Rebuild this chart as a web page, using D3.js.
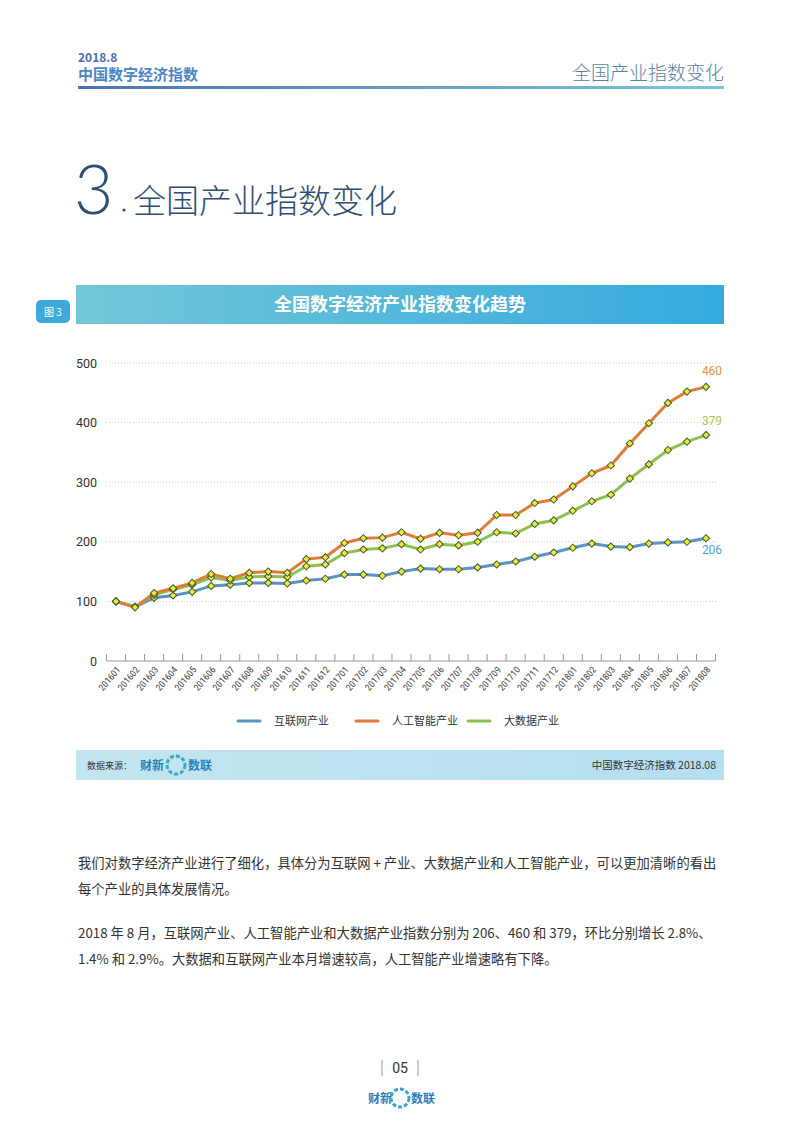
<!DOCTYPE html>
<html><head><meta charset="utf-8">
<script src="https://cdn.jsdelivr.net/npm/d3@7/dist/d3.min.js"></script>
<style>body{margin:0;background:#fff;font-family:"Noto Sans CJK SC","Noto Sans",sans-serif}</style>
</head><body>
<svg id="c" width="800" height="1132"></svg>
<script>
const months=["201601","201602","201603","201604","201605","201606","201607","201608","201609","201610","201611","201612","201701","201702","201703","201704","201705","201706","201707","201708","201709","201710","201711","201712","201801","201802","201803","201804","201805","201806","201807","201808"];
const internet=[100,91,106,110,116,126,128,131,131,130,135,138,145,145,143,150,155,154,154,157,162,167,175,182,190,197,192,191,197,199,200,206];
const ai=[100,90,114,122,131,146,138,148,150,148,171,174,198,206,207,216,205,215,211,215,245,245,265,271,293,315,328,365,399,433,452,460];
const bigdata=[100,91,111,120,128,140,135,141,142,141,159,162,181,187,189,196,187,196,194,200,216,214,230,236,252,268,279,306,330,354,368,379];
const seriesNames=["互联网产业","人工智能产业","大数据产业"];
const yTicks=[0,100,200,300,400,500];
const colors=["#5b93c7","#e07b39","#8cc152"];
const labelColors=["#3fa9dc","#e8913f","#a6c85a"];

const svg=d3.select("#c");
const defs=svg.append("defs");
const g1=defs.append("linearGradient").attr("id","hl");
g1.append("stop").attr("offset","0").attr("stop-color","#4a72b8");
g1.append("stop").attr("offset","1").attr("stop-color","#7cc7dc");
const g2=defs.append("linearGradient").attr("id","ban");
g2.append("stop").attr("offset","0").attr("stop-color","#72c7d6");
g2.append("stop").attr("offset","1").attr("stop-color","#35a9e0");
const g3=defs.append("linearGradient").attr("id","src");
g3.append("stop").attr("offset","0").attr("stop-color","#c2e6ef");
g3.append("stop").attr("offset","1").attr("stop-color","#b5dff0");

svg.append("text").attr("x",78).attr("y",62).text("2018.8").attr("font-size",12).attr("font-weight","bold").attr("fill","#4a6fae");
svg.append("text").attr("x",78).attr("y",80).text("中国数字经济指数").attr("font-size",15).attr("font-weight","bold").attr("fill","#4a86c8");
svg.append("text").attr("x",724).attr("y",80).attr("text-anchor","end").text("全国产业指数变化").attr("font-size",19).attr("font-weight","300").attr("fill","#5a7fa8");
svg.append("rect").attr("x",78).attr("y",86).attr("width",646).attr("height",3).attr("fill","url(#hl)");
svg.append("text").attr("x",74).attr("y",214).text("3").attr("font-size",68).attr("font-weight","300").attr("fill","#2d4e73").attr("font-family","Lato");
svg.append("circle").attr("cx",124).attr("cy",210).attr("r",1.6).attr("fill","#2d4e73");
svg.append("text").attr("x",133).attr("y",213).text("全国产业指数变化").attr("font-size",33).attr("font-weight","300").attr("fill","#2d4e73");
svg.append("rect").attr("x",76).attr("y",285).attr("width",648).attr("height",39).attr("fill","url(#ban)");
svg.append("text").attr("x",400).attr("y",311).attr("text-anchor","middle").text("全国数字经济产业指数变化趋势").attr("font-size",18).attr("font-weight","bold").attr("fill","#fff");
svg.append("rect").attr("x",36).attr("y",300).attr("width",34).attr("height",23).attr("rx",5).attr("fill","#3fa9dc");
svg.append("text").attr("x",53).attr("y",316).attr("text-anchor","middle").text("图 3").attr("font-size",10).attr("fill","#fff");

const x=d3.scalePoint().domain(months).range([116,706]);
const y=d3.scaleLinear().domain([0,500]).range([661,363]);
yTicks.forEach(t=>{ if(t>0) svg.append("line").attr("x1",106).attr("x2",716).attr("y1",y(t)).attr("y2",y(t)).attr("stroke","#c8c8c8").attr("stroke-dasharray","1,2");});
const ya=svg.append("g").attr("transform","translate(100,0)").call(d3.axisLeft(y).tickValues(yTicks).tickSize(0));
ya.select(".domain").remove();
ya.selectAll("text").attr("font-size",12.5).attr("fill","#333").attr("font-family","Roboto").attr("x",-3);
const step=x.step();
const xa=svg.append("g").attr("transform","translate(0,661)").call(d3.axisBottom(x).tickSize(0).tickFormat(""));
xa.select(".domain").attr("d",`M${116-step/2},0H${706+step/2}`).attr("stroke","#999");
months.concat(["end"]).forEach((m,i)=>{const px=116-step/2+i*step;svg.append("line").attr("x1",px).attr("x2",px).attr("y1",654).attr("y2",661).attr("stroke","#999");});
months.forEach(m=>{svg.append("text").attr("transform",`translate(${x(m)+5},${670}) rotate(-50)`).attr("text-anchor","end").attr("font-size",9.5).attr("fill","#444").attr("font-family","Roboto Condensed, Roboto").text(m);});

const data=[internet,ai,bigdata];
const line=d3.line().x((d,i)=>x(months[i])).y(d=>y(d));
[0,2,1].forEach(k=>{
 svg.append("path").datum(data[k]).attr("d",line).attr("fill","none").attr("stroke",colors[k]).attr("stroke-width",3);
});
[0,2,1].forEach(k=>{
 svg.append("g").selectAll("path").data(data[k]).join("path")
  .attr("d",d3.symbol(d3.symbolSquare,26))
  .attr("transform",(d,i)=>`translate(${x(months[i])},${y(d)}) rotate(45)`)
  .attr("fill","#f0ec2a").attr("stroke","#3b5a3b").attr("stroke-width",1);
});
const last=months[months.length-1];
svg.append("text").attr("x",x(last)+6).attr("y",y(460)-12).attr("text-anchor","middle").text("460").attr("font-size",12).attr("fill",labelColors[1]).attr("font-family","Roboto");
svg.append("text").attr("x",x(last)+6).attr("y",y(379)-10).attr("text-anchor","middle").text("379").attr("font-size",12).attr("fill",labelColors[2]).attr("font-family","Roboto");
svg.append("text").attr("x",x(last)+6).attr("y",y(206)+16).attr("text-anchor","middle").text("206").attr("font-size",12).attr("fill",labelColors[0]).attr("font-family","Roboto");

const lx=[238,356,468];
seriesNames.forEach((n,k)=>{
 svg.append("line").attr("x1",lx[k]).attr("x2",lx[k]+22).attr("y1",721).attr("y2",721).attr("stroke",colors[k]).attr("stroke-width",3).attr("stroke-linecap","round");
 svg.append("text").attr("x",lx[k]+36).attr("y",725).text(n).attr("font-size",11).attr("fill","#333");
});

svg.append("rect").attr("x",76).attr("y",750).attr("width",648).attr("height",30).attr("fill","url(#src)");
svg.append("text").attr("x",87).attr("y",769).text("数据来源：").attr("font-size",9).attr("fill","#333");
svg.append("text").attr("x",140).attr("y",770).text("财新").attr("font-size",12).attr("font-weight","bold").attr("fill","#2a7fc0");
svg.append("circle").attr("cx",176).attr("cy",765).attr("r",9).attr("fill","none").attr("stroke","#3aa6c9").attr("stroke-width",3).attr("stroke-dasharray","4,2");
svg.append("text").attr("x",188).attr("y",770).text("数联").attr("font-size",12).attr("font-weight","bold").attr("fill","#2a7fc0");
svg.append("text").attr("x",716).attr("y",769).attr("text-anchor","end").text("中国数字经济指数 2018.08").attr("font-size",10.5).attr("fill","#333");

const body=[
 [868,"我们对数字经济产业进行了细化，具体分为互联网 + 产业、大数据产业和人工智能产业，可以更加清晰的看出"],
 [894,"每个产业的具体发展情况。"],
 [938,"2018 年 8 月，互联网产业、人工智能产业和大数据产业指数分别为 206、460 和 379，环比分别增长 2.8%、"],
 [964,"1.4% 和 2.9%。大数据和互联网产业本月增速较高，人工智能产业增速略有下降。"]];
body.forEach(b=>svg.append("text").attr("x",78).attr("y",b[0]).text(b[1]).attr("font-size",13.3).attr("fill","#333"));

svg.append("text").attr("x",400).attr("y",1073).attr("text-anchor","middle").text("05").attr("font-size",14).attr("fill","#333").attr("font-family","Roboto");
svg.append("line").attr("x1",382).attr("x2",382).attr("y1",1060).attr("y2",1076).attr("stroke","#999");
svg.append("line").attr("x1",418).attr("x2",418).attr("y1",1060).attr("y2",1076).attr("stroke","#999");
svg.append("text").attr("x",368).attr("y",1103).text("财新").attr("font-size",12).attr("font-weight","bold").attr("fill","#2a7fc0");
svg.append("circle").attr("cx",400).attr("cy",1098).attr("r",9).attr("fill","none").attr("stroke","#3aa6c9").attr("stroke-width",3).attr("stroke-dasharray","4,2");
svg.append("text").attr("x",411).attr("y",1103).text("数联").attr("font-size",12).attr("font-weight","bold").attr("fill","#2a7fc0");
</script>
</body></html>
